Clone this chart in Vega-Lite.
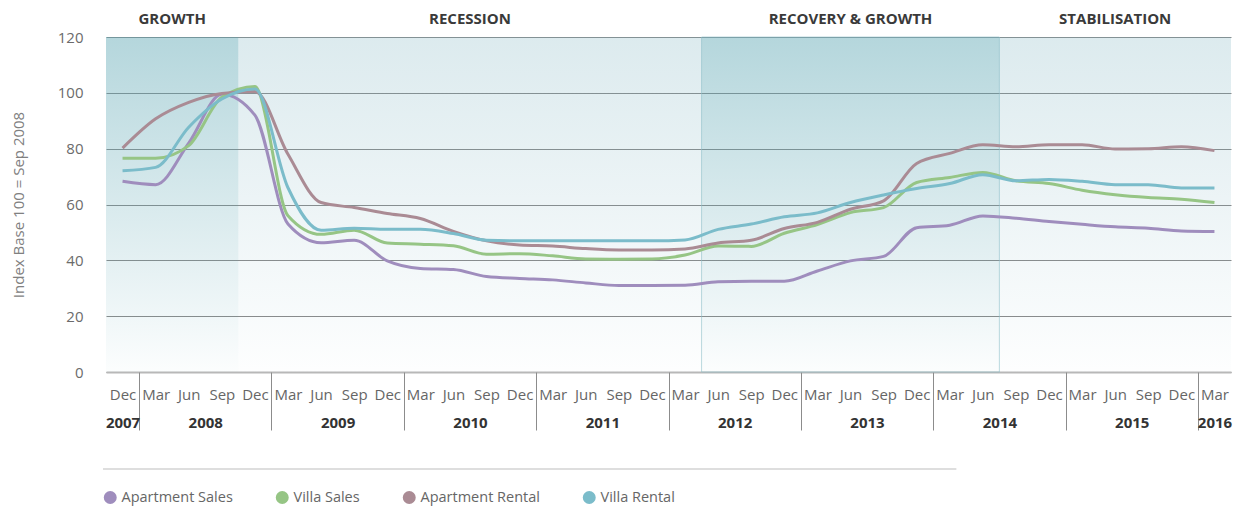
{
  "$schema": "https://vega.github.io/schema/vega-lite/v6.json",
  "width": 1125,
  "height": 335,
  "autosize": {"type": "none"},
  "padding": {"left": 106, "top": 37, "right": 7, "bottom": 151},
  "background": "white",
  "config": {
    "font": "Open Sans",
    "view": {"stroke": null},
    "legend": {
      "orient": "none",
      "legendX": -3,
      "legendY": 453,
      "direction": "horizontal",
      "symbolType": "circle",
      "symbolSize": 42,
      "symbolStrokeWidth": 6.5,
      "labelFont": "Open Sans",
      "labelFontSize": 14.5,
      "labelColor": "#666666",
      "labelOffset": 4,
      "columnPadding": 33
    }
  },
  "datasets": {
    "phases": [
      {"phase": "GROWTH", "start": -0.5, "end": 3.5, "tone": "dark"},
      {"phase": "RECESSION", "start": 3.5, "end": 17.5, "tone": "light"},
      {"phase": "RECOVERY & GROWTH", "start": 17.5, "end": 26.5, "tone": "dark"},
      {"phase": "STABILISATION", "start": 26.5, "end": 33.5, "tone": "light"}
    ],
    "series": [
      {"i":0,"series":"Apartment Sales","value":68.3},{"i":1,"series":"Apartment Sales","value":67.1},{"i":2,"series":"Apartment Sales","value":82},{"i":3,"series":"Apartment Sales","value":99.5},{"i":4,"series":"Apartment Sales","value":92},{"i":5,"series":"Apartment Sales","value":53},{"i":6,"series":"Apartment Sales","value":46.3},{"i":7,"series":"Apartment Sales","value":47.2},{"i":8,"series":"Apartment Sales","value":39.8},{"i":9,"series":"Apartment Sales","value":37.1},{"i":10,"series":"Apartment Sales","value":36.7},{"i":11,"series":"Apartment Sales","value":34.2},{"i":12,"series":"Apartment Sales","value":33.5},{"i":13,"series":"Apartment Sales","value":33},{"i":14,"series":"Apartment Sales","value":31.9},{"i":15,"series":"Apartment Sales","value":31},{"i":16,"series":"Apartment Sales","value":31},{"i":17,"series":"Apartment Sales","value":31.1},{"i":18,"series":"Apartment Sales","value":32.3},{"i":19,"series":"Apartment Sales","value":32.5},{"i":20,"series":"Apartment Sales","value":32.5},{"i":21,"series":"Apartment Sales","value":36.2},{"i":22,"series":"Apartment Sales","value":39.8},{"i":23,"series":"Apartment Sales","value":41.4},{"i":24,"series":"Apartment Sales","value":51.7},{"i":25,"series":"Apartment Sales","value":52.6},{"i":26,"series":"Apartment Sales","value":55.9},{"i":27,"series":"Apartment Sales","value":55.1},{"i":28,"series":"Apartment Sales","value":53.9},{"i":29,"series":"Apartment Sales","value":52.9},{"i":30,"series":"Apartment Sales","value":52},{"i":31,"series":"Apartment Sales","value":51.5},{"i":32,"series":"Apartment Sales","value":50.5},{"i":33,"series":"Apartment Sales","value":50.3},
      {"i":0,"series":"Villa Sales","value":76.6},{"i":1,"series":"Villa Sales","value":76.6},{"i":2,"series":"Villa Sales","value":81.1},{"i":3,"series":"Villa Sales","value":98.4},{"i":4,"series":"Villa Sales","value":102.3},{"i":5,"series":"Villa Sales","value":56},{"i":6,"series":"Villa Sales","value":49.3},{"i":7,"series":"Villa Sales","value":50.8},{"i":8,"series":"Villa Sales","value":46.2},{"i":9,"series":"Villa Sales","value":45.8},{"i":10,"series":"Villa Sales","value":45.2},{"i":11,"series":"Villa Sales","value":42.2},{"i":12,"series":"Villa Sales","value":42.4},{"i":13,"series":"Villa Sales","value":41.6},{"i":14,"series":"Villa Sales","value":40.5},{"i":15,"series":"Villa Sales","value":40.4},{"i":16,"series":"Villa Sales","value":40.5},{"i":17,"series":"Villa Sales","value":41.9},{"i":18,"series":"Villa Sales","value":45.1},{"i":19,"series":"Villa Sales","value":45},{"i":20,"series":"Villa Sales","value":49.7},{"i":21,"series":"Villa Sales","value":52.8},{"i":22,"series":"Villa Sales","value":57.1},{"i":23,"series":"Villa Sales","value":58.9},{"i":24,"series":"Villa Sales","value":67.9},{"i":25,"series":"Villa Sales","value":69.7},{"i":26,"series":"Villa Sales","value":71.5},{"i":27,"series":"Villa Sales","value":68.5},{"i":28,"series":"Villa Sales","value":67.5},{"i":29,"series":"Villa Sales","value":65.1},{"i":30,"series":"Villa Sales","value":63.5},{"i":31,"series":"Villa Sales","value":62.5},{"i":32,"series":"Villa Sales","value":61.9},{"i":33,"series":"Villa Sales","value":60.7},
      {"i":0,"series":"Apartment Rental","value":80.2},{"i":1,"series":"Apartment Rental","value":90.7},{"i":2,"series":"Apartment Rental","value":96.6},{"i":3,"series":"Apartment Rental","value":99.8},{"i":4,"series":"Apartment Rental","value":100.5},{"i":5,"series":"Apartment Rental","value":78},{"i":6,"series":"Apartment Rental","value":60.7},{"i":7,"series":"Apartment Rental","value":58.9},{"i":8,"series":"Apartment Rental","value":56.8},{"i":9,"series":"Apartment Rental","value":55},{"i":10,"series":"Apartment Rental","value":50.4},{"i":11,"series":"Apartment Rental","value":47},{"i":12,"series":"Apartment Rental","value":45.5},{"i":13,"series":"Apartment Rental","value":45.1},{"i":14,"series":"Apartment Rental","value":44.2},{"i":15,"series":"Apartment Rental","value":43.7},{"i":16,"series":"Apartment Rental","value":43.7},{"i":17,"series":"Apartment Rental","value":44.1},{"i":18,"series":"Apartment Rental","value":46.2},{"i":19,"series":"Apartment Rental","value":47.2},{"i":20,"series":"Apartment Rental","value":51.4},{"i":21,"series":"Apartment Rental","value":53.6},{"i":22,"series":"Apartment Rental","value":58.3},{"i":23,"series":"Apartment Rental","value":61.3},{"i":24,"series":"Apartment Rental","value":74.7},{"i":25,"series":"Apartment Rental","value":78.3},{"i":26,"series":"Apartment Rental","value":81.4},{"i":27,"series":"Apartment Rental","value":80.7},{"i":28,"series":"Apartment Rental","value":81.4},{"i":29,"series":"Apartment Rental","value":81.4},{"i":30,"series":"Apartment Rental","value":79.9},{"i":31,"series":"Apartment Rental","value":80},{"i":32,"series":"Apartment Rental","value":80.7},{"i":33,"series":"Apartment Rental","value":79.3},
      {"i":0,"series":"Villa Rental","value":72.1},{"i":1,"series":"Villa Rental","value":73.3},{"i":2,"series":"Villa Rental","value":87.7},{"i":3,"series":"Villa Rental","value":97.8},{"i":4,"series":"Villa Rental","value":101.4},{"i":5,"series":"Villa Rental","value":66},{"i":6,"series":"Villa Rental","value":50.8},{"i":7,"series":"Villa Rental","value":51.5},{"i":8,"series":"Villa Rental","value":51.1},{"i":9,"series":"Villa Rental","value":51.1},{"i":10,"series":"Villa Rental","value":49.6},{"i":11,"series":"Villa Rental","value":47.2},{"i":12,"series":"Villa Rental","value":47},{"i":13,"series":"Villa Rental","value":47},{"i":14,"series":"Villa Rental","value":47},{"i":15,"series":"Villa Rental","value":47},{"i":16,"series":"Villa Rental","value":47},{"i":17,"series":"Villa Rental","value":47.3},{"i":18,"series":"Villa Rental","value":51.1},{"i":19,"series":"Villa Rental","value":53},{"i":20,"series":"Villa Rental","value":55.6},{"i":21,"series":"Villa Rental","value":57},{"i":22,"series":"Villa Rental","value":60.7},{"i":23,"series":"Villa Rental","value":63.4},{"i":24,"series":"Villa Rental","value":65.7},{"i":25,"series":"Villa Rental","value":67.5},{"i":26,"series":"Villa Rental","value":70.7},{"i":27,"series":"Villa Rental","value":68.5},{"i":28,"series":"Villa Rental","value":69},{"i":29,"series":"Villa Rental","value":68.3},{"i":30,"series":"Villa Rental","value":67.1},{"i":31,"series":"Villa Rental","value":67.1},{"i":32,"series":"Villa Rental","value":65.9},{"i":33,"series":"Villa Rental","value":65.9}
    ]
  },
  "resolve": {"axis": {"x": "independent"}},
  "layer": [
    {
      "data": {"name": "phases"},
      "transform": [{"filter": "datum.tone === 'dark'"}],
      "mark": {
        "type": "rect",
        "stroke": "#8fc0c9",
        "strokeWidth": 1,
        "color": {
          "gradient": "linear", "x1": 0, "y1": 0, "x2": 0, "y2": 1,
          "stops": [
            {"offset": 0, "color": "rgba(90,165,178,0.45)"},
            {"offset": 1, "color": "rgba(90,165,178,0.02)"}
          ]
        }
      },
      "encoding": {
        "x": {
          "field": "start", "type": "quantitative",
          "scale": {"domain": [-0.5, 33.5], "nice": false, "zero": false},
          "axis": {
            "orient": "bottom",
            "values": [0,1,2,3,4,5,6,7,8,9,10,11,12,13,14,15,16,17,18,19,20,21,22,23,24,25,26,27,28,29,30,31,32,33],
            "labelExpr": "['Dec','Mar','Jun','Sep'][datum.value % 4]",
            "ticks": false, "tickSize": 0, "grid": false,
            "domain": true, "domainColor": "#b8b8b8", "domainWidth": 2,
            "labelPadding": 15, "labelFontSize": 15, "labelColor": "#666666",
            "labelFont": "Open Sans", "labelOverlap": false, "labelBound": false, "labelFlush": false,
            "title": null
          }
        },
        "x2": {"field": "end"},
        "strokeOpacity": {"condition": {"test": "datum.phase === 'RECOVERY & GROWTH'", "value": 0.6}, "value": 0}
      }
    },
    {
      "data": {"name": "phases"},
      "transform": [{"filter": "datum.tone === 'light'"}],
      "mark": {
        "type": "rect",
        "color": {
          "gradient": "linear", "x1": 0, "y1": 0, "x2": 0, "y2": 1,
          "stops": [
            {"offset": 0, "color": "rgba(110,170,185,0.24)"},
            {"offset": 1, "color": "rgba(110,170,185,0.01)"}
          ]
        }
      },
      "encoding": {
        "x": {
          "field": "start", "type": "quantitative",
          "scale": {"domain": [-0.5, 33.5], "nice": false, "zero": false},
          "axis": {
            "orient": "bottom",
            "values": [0.5, 4.5, 8.5, 12.5, 16.5, 20.5, 24.5, 28.5, 32.5],
            "labels": false, "ticks": true, "tickSize": 58, "tickColor": "#8c8c8c", "tickWidth": 1,
            "domain": false, "grid": false, "title": null
          }
        },
        "x2": {"field": "end"}
      }
    },
    {
      "data": {"name": "phases"},
      "transform": [{"calculate": "(datum.start + datum.end) / 2", "as": "mid"}],
      "mark": {"type": "text", "font": "Open Sans", "fontSize": 15, "fontWeight": "bold", "color": "#3a3a3a", "baseline": "middle", "dy": -18},
      "encoding": {
        "x": {
          "field": "mid", "type": "quantitative",
          "scale": {"domain": [-0.5, 33.5], "nice": false, "zero": false},
          "axis": {
            "orient": "bottom",
            "values": [0, 2.5, 6.5, 10.5, 14.5, 18.5, 22.5, 26.5, 30.5, 33],
            "labelExpr": "datum.value == 0 ? '2007' : datum.value == 33 ? '2016' : '' + (2008 + (datum.value - 2.5) / 4)",
            "ticks": false, "tickSize": 0, "domain": false, "grid": false,
            "labelPadding": 43, "labelFontSize": 15, "labelFontWeight": "bold", "labelColor": "#333333",
            "labelFont": "Open Sans", "labelOverlap": false, "labelBound": false, "labelFlush": false,
            "title": null
          }
        },
        "y": {
          "datum": 120, "type": "quantitative", "scale": {"domain": [0, 120], "nice": false},
          "axis": {
            "orient": "left",
            "values": [0, 20, 40, 60, 80, 100, 120],
            "grid": true, "gridColor": "#8a8a8a", "gridWidth": 1,
            "domain": false, "ticks": false, "tickSize": 0,
            "labelPadding": 23, "labelFontSize": 15, "labelColor": "#6b6b6b", "labelFont": "Open Sans",
            "title": "Index Base 100 = Sep 2008",
            "titleFont": "Open Sans", "titleFontSize": 15, "titleFontWeight": "normal", "titleColor": "#808080",
            "titlePadding": 31
          }
        },
        "text": {"field": "phase"}
      }
    },
    {
      "data": {"name": "series"},
      "mark": {"type": "line", "strokeWidth": 3, "interpolate": "monotone"},
      "encoding": {
        "x": {"field": "i", "type": "quantitative", "scale": {"domain": [-0.5, 33.5], "nice": false, "zero": false}, "axis": null},
        "y": {
          "field": "value", "type": "quantitative",
          "scale": {"domain": [0, 120], "nice": false},
          "axis": {
            "orient": "left",
            "values": [0, 20, 40, 60, 80, 100, 120],
            "grid": true, "gridColor": "#8a8a8a", "gridWidth": 1,
            "domain": false, "ticks": false, "tickSize": 0,
            "labelPadding": 23, "labelFontSize": 15, "labelColor": "#6b6b6b", "labelFont": "Open Sans",
            "title": "Index Base 100 = Sep 2008",
            "titleFont": "Open Sans", "titleFontSize": 15, "titleFontWeight": "normal", "titleColor": "#808080",
            "titlePadding": 31
          }
        },
        "color": {
          "field": "series", "type": "nominal",
          "scale": {
            "domain": ["Apartment Sales", "Villa Sales", "Apartment Rental", "Villa Rental"],
            "range": ["#9f8dbd", "#96c585", "#aa8b94", "#7bbcca"]
          },
          "legend": {"title": null}
        }
      }
    },
    {
      "data": {"values": [{"divider": "legend"}]},
      "mark": {"type": "rule", "color": "#dedede", "strokeWidth": 2},
      "encoding": {
        "x": {"datum": -0.59, "type": "quantitative", "scale": {"domain": [-0.5, 33.5], "nice": false, "zero": false}, "axis": null},
        "x2": {"datum": 25.2},
        "y": {
          "datum": -34.75, "type": "quantitative", "scale": {"domain": [0, 120], "nice": false},
          "axis": {
            "orient": "left",
            "values": [0, 20, 40, 60, 80, 100, 120],
            "grid": true, "gridColor": "#8a8a8a", "gridWidth": 1,
            "domain": false, "ticks": false, "tickSize": 0,
            "labelPadding": 23, "labelFontSize": 15, "labelColor": "#6b6b6b", "labelFont": "Open Sans",
            "title": "Index Base 100 = Sep 2008",
            "titleFont": "Open Sans", "titleFontSize": 15, "titleFontWeight": "normal", "titleColor": "#808080",
            "titlePadding": 31
          }
        }
      }
    }
  ]
}
